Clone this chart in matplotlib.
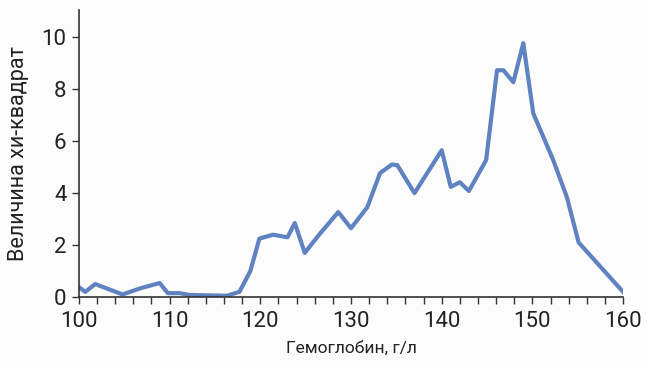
import matplotlib
matplotlib.use("Agg")
import matplotlib.pyplot as plt
from matplotlib.ticker import MultipleLocator

plt.rcParams["font.family"] = ["Roboto", "DejaVu Sans"]

# Hemoglobin level (g/L) and chi-square statistic
hgb = [100, 100.7, 101.8, 104.8, 106.9, 108.9, 109.8, 111.1, 112.2, 116.3,
       117.7, 118.9, 119.9, 121.4, 123.0, 123.8, 124.9, 126.6, 128.6, 130.0,
       131.8, 133.2, 134.5, 135.1, 137.0, 140.0, 141.0, 142.0, 143.0, 144.9,
       146.1, 146.8, 147.9, 149.0, 150.1, 152.3, 153.8, 155.1, 160.0]
chi2 = [0.38, 0.2, 0.5, 0.1, 0.35, 0.54, 0.15, 0.15, 0.08, 0.05,
        0.2, 1.0, 2.25, 2.4, 2.3, 2.85, 1.7, 2.45, 3.27, 2.65,
        3.46, 4.77, 5.1, 5.08, 4.0, 5.65, 4.24, 4.42, 4.08, 5.27,
        8.73, 8.73, 8.27, 9.77, 7.07, 5.27, 3.85, 2.1, 0.2]

x_ticks = [100, 110, 120, 130, 140, 150, 160]
y_ticks = [0, 2, 4, 6, 8, 10]

fig = plt.figure(figsize=(6.47, 3.69), dpi=100)
fig.patch.set_facecolor("#fcfcfc")
ax = fig.add_axes([0.122, 0.195, 0.841, 0.778])
ax.set_facecolor("#fcfcfc")

ax.plot(hgb, chi2, color="#5f82c0", lw=3.0, solid_joinstyle="round")

ax.set_xlim(100, 160)
ax.set_ylim(0, 11.05)
ax.set_xticks(x_ticks)
ax.xaxis.set_minor_locator(MultipleLocator(2))
ax.set_yticks(y_ticks)
for s in ["top", "right"]:
    ax.spines[s].set_visible(False)
for s in ["left", "bottom"]:
    ax.spines[s].set_color("#333333")
    ax.spines[s].set_linewidth(1.2)

ax.tick_params(axis="both", which="both", colors="#333333", labelcolor="#222222",
               labelsize=16, width=1.0)
ax.tick_params(axis="x", which="major", length=5, pad=5)
ax.tick_params(axis="x", which="minor", length=5)
ax.tick_params(axis="y", length=5, pad=4)

ax.set_xlabel("Гемоглобин, г/л", fontsize=12.5, color="#222222", labelpad=6)
ax.set_ylabel("Величина хи-квадрат", fontsize=15.5, color="#222222", labelpad=9)

fig.savefig("out.png", dpi=100, facecolor=fig.get_facecolor())
